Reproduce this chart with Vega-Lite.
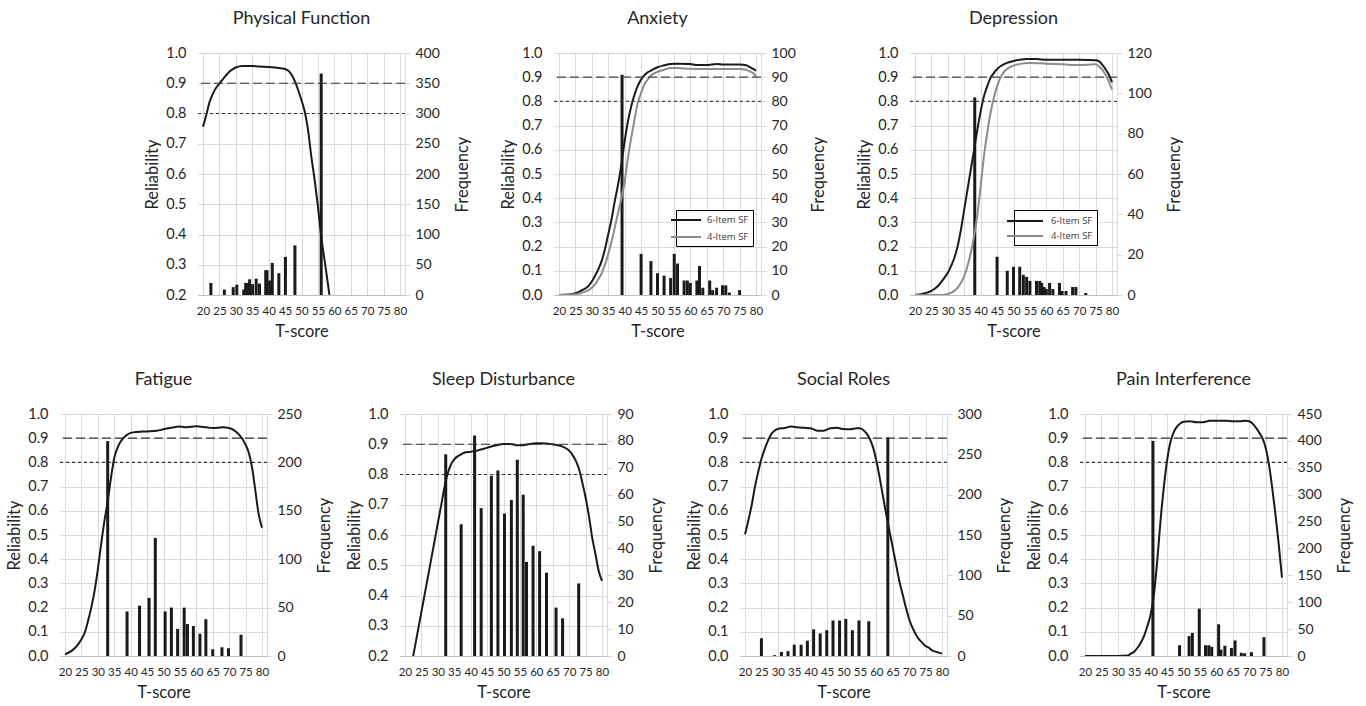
{
"$schema":"https://vega.github.io/schema/vega-lite/v6.json",
"padding":{"left":6,"top":10,"right":60,"bottom":0},
"datasets":{
"curves":[
{"p":"PF","t":20,"r":0.756},{"p":"PF","t":21,"r":0.795},{"p":"PF","t":22,"r":0.838},{"p":"PF","t":23,"r":0.865},{"p":"PF","t":24,"r":0.885},{"p":"PF","t":25,"r":0.899},{"p":"PF","t":26,"r":0.913},{"p":"PF","t":27,"r":0.926},{"p":"PF","t":28,"r":0.938},{"p":"PF","t":29,"r":0.946},{"p":"PF","t":30,"r":0.952},{"p":"PF","t":32,"r":0.957},{"p":"PF","t":35,"r":0.957},{"p":"PF","t":37,"r":0.955},{"p":"PF","t":40,"r":0.954},{"p":"PF","t":42,"r":0.952},{"p":"PF","t":44,"r":0.949},{"p":"PF","t":45,"r":0.947},{"p":"PF","t":46,"r":0.941},{"p":"PF","t":47,"r":0.928},{"p":"PF","t":48,"r":0.906},{"p":"PF","t":49,"r":0.877},{"p":"PF","t":50,"r":0.844},{"p":"PF","t":51,"r":0.806},{"p":"PF","t":52,"r":0.745},{"p":"PF","t":53,"r":0.657},{"p":"PF","t":54,"r":0.581},{"p":"PF","t":55,"r":0.493},{"p":"PF","t":56,"r":0.394},{"p":"PF","t":57,"r":0.317},{"p":"PF","t":58,"r":0.24},{"p":"PF","t":58.5,"r":0.2},
{"p":"AX","f":"6-Item SF","t":20,"r":0},{"p":"AX","f":"6-Item SF","t":23,"r":0.002},{"p":"AX","f":"6-Item SF","t":25,"r":0.007},{"p":"AX","f":"6-Item SF","t":27,"r":0.02},{"p":"AX","f":"6-Item SF","t":29,"r":0.038},{"p":"AX","f":"6-Item SF","t":30,"r":0.056},{"p":"AX","f":"6-Item SF","t":31,"r":0.08},{"p":"AX","f":"6-Item SF","t":32,"r":0.107},{"p":"AX","f":"6-Item SF","t":33,"r":0.141},{"p":"AX","f":"6-Item SF","t":34,"r":0.19},{"p":"AX","f":"6-Item SF","t":35,"r":0.251},{"p":"AX","f":"6-Item SF","t":36,"r":0.313},{"p":"AX","f":"6-Item SF","t":37,"r":0.389},{"p":"AX","f":"6-Item SF","t":38,"r":0.457},{"p":"AX","f":"6-Item SF","t":39,"r":0.54},{"p":"AX","f":"6-Item SF","t":40,"r":0.636},{"p":"AX","f":"6-Item SF","t":41,"r":0.718},{"p":"AX","f":"6-Item SF","t":42,"r":0.78},{"p":"AX","f":"6-Item SF","t":43,"r":0.828},{"p":"AX","f":"6-Item SF","t":44,"r":0.865},{"p":"AX","f":"6-Item SF","t":45,"r":0.89},{"p":"AX","f":"6-Item SF","t":46,"r":0.908},{"p":"AX","f":"6-Item SF","t":47,"r":0.92},{"p":"AX","f":"6-Item SF","t":48,"r":0.927},{"p":"AX","f":"6-Item SF","t":50,"r":0.941},{"p":"AX","f":"6-Item SF","t":52,"r":0.949},{"p":"AX","f":"6-Item SF","t":54,"r":0.955},{"p":"AX","f":"6-Item SF","t":56,"r":0.956},{"p":"AX","f":"6-Item SF","t":60,"r":0.955},{"p":"AX","f":"6-Item SF","t":62,"r":0.95},{"p":"AX","f":"6-Item SF","t":65,"r":0.95},{"p":"AX","f":"6-Item SF","t":68,"r":0.955},{"p":"AX","f":"6-Item SF","t":70,"r":0.952},{"p":"AX","f":"6-Item SF","t":75,"r":0.952},{"p":"AX","f":"6-Item SF","t":77,"r":0.949},{"p":"AX","f":"6-Item SF","t":78,"r":0.943},{"p":"AX","f":"6-Item SF","t":79,"r":0.935},{"p":"AX","f":"6-Item SF","t":80,"r":0.927},
{"p":"AX","f":"4-Item SF","t":20,"r":0},{"p":"AX","f":"4-Item SF","t":25,"r":0.003},{"p":"AX","f":"4-Item SF","t":27,"r":0.01},{"p":"AX","f":"4-Item SF","t":29,"r":0.02},{"p":"AX","f":"4-Item SF","t":30,"r":0.03},{"p":"AX","f":"4-Item SF","t":31,"r":0.045},{"p":"AX","f":"4-Item SF","t":32,"r":0.065},{"p":"AX","f":"4-Item SF","t":33,"r":0.09},{"p":"AX","f":"4-Item SF","t":34,"r":0.125},{"p":"AX","f":"4-Item SF","t":35,"r":0.17},{"p":"AX","f":"4-Item SF","t":36,"r":0.22},{"p":"AX","f":"4-Item SF","t":37,"r":0.28},{"p":"AX","f":"4-Item SF","t":38,"r":0.34},{"p":"AX","f":"4-Item SF","t":39,"r":0.4},{"p":"AX","f":"4-Item SF","t":40,"r":0.47},{"p":"AX","f":"4-Item SF","t":41,"r":0.567},{"p":"AX","f":"4-Item SF","t":42,"r":0.65},{"p":"AX","f":"4-Item SF","t":43,"r":0.725},{"p":"AX","f":"4-Item SF","t":44,"r":0.794},{"p":"AX","f":"4-Item SF","t":45,"r":0.835},{"p":"AX","f":"4-Item SF","t":46,"r":0.87},{"p":"AX","f":"4-Item SF","t":47,"r":0.89},{"p":"AX","f":"4-Item SF","t":48,"r":0.907},{"p":"AX","f":"4-Item SF","t":50,"r":0.922},{"p":"AX","f":"4-Item SF","t":52,"r":0.931},{"p":"AX","f":"4-Item SF","t":54,"r":0.938},{"p":"AX","f":"4-Item SF","t":56,"r":0.938},{"p":"AX","f":"4-Item SF","t":60,"r":0.935},{"p":"AX","f":"4-Item SF","t":65,"r":0.934},{"p":"AX","f":"4-Item SF","t":70,"r":0.934},{"p":"AX","f":"4-Item SF","t":75,"r":0.934},{"p":"AX","f":"4-Item SF","t":77,"r":0.931},{"p":"AX","f":"4-Item SF","t":78,"r":0.925},{"p":"AX","f":"4-Item SF","t":79,"r":0.918},{"p":"AX","f":"4-Item SF","t":80,"r":0.904},
{"p":"DP","f":"6-Item SF","t":20,"r":0},{"p":"DP","f":"6-Item SF","t":23,"r":0.007},{"p":"DP","f":"6-Item SF","t":25,"r":0.017},{"p":"DP","f":"6-Item SF","t":27,"r":0.037},{"p":"DP","f":"6-Item SF","t":29,"r":0.072},{"p":"DP","f":"6-Item SF","t":30,"r":0.092},{"p":"DP","f":"6-Item SF","t":31,"r":0.12},{"p":"DP","f":"6-Item SF","t":32,"r":0.154},{"p":"DP","f":"6-Item SF","t":33,"r":0.202},{"p":"DP","f":"6-Item SF","t":34,"r":0.271},{"p":"DP","f":"6-Item SF","t":35,"r":0.354},{"p":"DP","f":"6-Item SF","t":36,"r":0.436},{"p":"DP","f":"6-Item SF","t":37,"r":0.519},{"p":"DP","f":"6-Item SF","t":38,"r":0.601},{"p":"DP","f":"6-Item SF","t":39,"r":0.684},{"p":"DP","f":"6-Item SF","t":40,"r":0.759},{"p":"DP","f":"6-Item SF","t":41,"r":0.821},{"p":"DP","f":"6-Item SF","t":42,"r":0.862},{"p":"DP","f":"6-Item SF","t":43,"r":0.897},{"p":"DP","f":"6-Item SF","t":44,"r":0.917},{"p":"DP","f":"6-Item SF","t":45,"r":0.934},{"p":"DP","f":"6-Item SF","t":46,"r":0.945},{"p":"DP","f":"6-Item SF","t":48,"r":0.959},{"p":"DP","f":"6-Item SF","t":50,"r":0.967},{"p":"DP","f":"6-Item SF","t":52,"r":0.972},{"p":"DP","f":"6-Item SF","t":54,"r":0.975},{"p":"DP","f":"6-Item SF","t":57,"r":0.975},{"p":"DP","f":"6-Item SF","t":60,"r":0.972},{"p":"DP","f":"6-Item SF","t":65,"r":0.972},{"p":"DP","f":"6-Item SF","t":70,"r":0.972},{"p":"DP","f":"6-Item SF","t":75,"r":0.97},{"p":"DP","f":"6-Item SF","t":76,"r":0.966},{"p":"DP","f":"6-Item SF","t":77,"r":0.952},{"p":"DP","f":"6-Item SF","t":78,"r":0.934},{"p":"DP","f":"6-Item SF","t":79,"r":0.911},{"p":"DP","f":"6-Item SF","t":80,"r":0.879},
{"p":"DP","f":"4-Item SF","t":20,"r":0},{"p":"DP","f":"4-Item SF","t":28,"r":0},{"p":"DP","f":"4-Item SF","t":30,"r":0.004},{"p":"DP","f":"4-Item SF","t":32,"r":0.017},{"p":"DP","f":"4-Item SF","t":33,"r":0.03},{"p":"DP","f":"4-Item SF","t":34,"r":0.051},{"p":"DP","f":"4-Item SF","t":35,"r":0.078},{"p":"DP","f":"4-Item SF","t":36,"r":0.12},{"p":"DP","f":"4-Item SF","t":37,"r":0.175},{"p":"DP","f":"4-Item SF","t":38,"r":0.243},{"p":"DP","f":"4-Item SF","t":39,"r":0.333},{"p":"DP","f":"4-Item SF","t":40,"r":0.45},{"p":"DP","f":"4-Item SF","t":41,"r":0.574},{"p":"DP","f":"4-Item SF","t":42,"r":0.67},{"p":"DP","f":"4-Item SF","t":43,"r":0.752},{"p":"DP","f":"4-Item SF","t":44,"r":0.814},{"p":"DP","f":"4-Item SF","t":45,"r":0.862},{"p":"DP","f":"4-Item SF","t":46,"r":0.897},{"p":"DP","f":"4-Item SF","t":47,"r":0.92},{"p":"DP","f":"4-Item SF","t":48,"r":0.934},{"p":"DP","f":"4-Item SF","t":50,"r":0.948},{"p":"DP","f":"4-Item SF","t":52,"r":0.955},{"p":"DP","f":"4-Item SF","t":55,"r":0.959},{"p":"DP","f":"4-Item SF","t":60,"r":0.956},{"p":"DP","f":"4-Item SF","t":65,"r":0.953},{"p":"DP","f":"4-Item SF","t":70,"r":0.95},{"p":"DP","f":"4-Item SF","t":75,"r":0.953},{"p":"DP","f":"4-Item SF","t":76,"r":0.945},{"p":"DP","f":"4-Item SF","t":77,"r":0.931},{"p":"DP","f":"4-Item SF","t":78,"r":0.911},{"p":"DP","f":"4-Item SF","t":79,"r":0.883},{"p":"DP","f":"4-Item SF","t":80,"r":0.849},
{"p":"FA","t":20,"r":0.007},{"p":"FA","t":22,"r":0.021},{"p":"FA","t":24,"r":0.048},{"p":"FA","t":25,"r":0.069},{"p":"FA","t":26,"r":0.096},{"p":"FA","t":27,"r":0.144},{"p":"FA","t":28,"r":0.2},{"p":"FA","t":29,"r":0.268},{"p":"FA","t":30,"r":0.358},{"p":"FA","t":31,"r":0.461},{"p":"FA","t":32,"r":0.557},{"p":"FA","t":33,"r":0.639},{"p":"FA","t":34,"r":0.736},{"p":"FA","t":35,"r":0.818},{"p":"FA","t":36,"r":0.86},{"p":"FA","t":37,"r":0.887},{"p":"FA","t":38,"r":0.904},{"p":"FA","t":39,"r":0.915},{"p":"FA","t":40,"r":0.922},{"p":"FA","t":42,"r":0.926},{"p":"FA","t":45,"r":0.928},{"p":"FA","t":48,"r":0.931},{"p":"FA","t":50,"r":0.937},{"p":"FA","t":52,"r":0.942},{"p":"FA","t":55,"r":0.948},{"p":"FA","t":57,"r":0.945},{"p":"FA","t":60,"r":0.949},{"p":"FA","t":63,"r":0.945},{"p":"FA","t":65,"r":0.942},{"p":"FA","t":68,"r":0.945},{"p":"FA","t":70,"r":0.942},{"p":"FA","t":72,"r":0.928},{"p":"FA","t":73,"r":0.915},{"p":"FA","t":74,"r":0.898},{"p":"FA","t":75,"r":0.873},{"p":"FA","t":76,"r":0.839},{"p":"FA","t":77,"r":0.777},{"p":"FA","t":78,"r":0.681},{"p":"FA","t":79,"r":0.585},{"p":"FA","t":80,"r":0.53},
{"p":"SL","t":22.5,"r":0.2},{"p":"SL","t":25,"r":0.346},{"p":"SL","t":27,"r":0.463},{"p":"SL","t":29,"r":0.58},{"p":"SL","t":30,"r":0.639},{"p":"SL","t":31,"r":0.697},{"p":"SL","t":32,"r":0.756},{"p":"SL","t":33,"r":0.803},{"p":"SL","t":34,"r":0.833},{"p":"SL","t":35,"r":0.85},{"p":"SL","t":36,"r":0.86},{"p":"SL","t":37,"r":0.866},{"p":"SL","t":38,"r":0.872},{"p":"SL","t":40,"r":0.875},{"p":"SL","t":42,"r":0.879},{"p":"SL","t":44,"r":0.885},{"p":"SL","t":46,"r":0.892},{"p":"SL","t":48,"r":0.897},{"p":"SL","t":50,"r":0.901},{"p":"SL","t":52,"r":0.901},{"p":"SL","t":54,"r":0.897},{"p":"SL","t":56,"r":0.897},{"p":"SL","t":58,"r":0.901},{"p":"SL","t":60,"r":0.903},{"p":"SL","t":62,"r":0.903},{"p":"SL","t":64,"r":0.901},{"p":"SL","t":66,"r":0.898},{"p":"SL","t":68,"r":0.892},{"p":"SL","t":70,"r":0.879},{"p":"SL","t":71,"r":0.865},{"p":"SL","t":72,"r":0.846},{"p":"SL","t":73,"r":0.818},{"p":"SL","t":74,"r":0.774},{"p":"SL","t":75,"r":0.724},{"p":"SL","t":76,"r":0.664},{"p":"SL","t":77,"r":0.592},{"p":"SL","t":78,"r":0.537},{"p":"SL","t":79,"r":0.481},{"p":"SL","t":80,"r":0.448},
{"p":"SR","t":20,"r":0.503},{"p":"SR","t":21,"r":0.559},{"p":"SR","t":22,"r":0.621},{"p":"SR","t":23,"r":0.697},{"p":"SR","t":24,"r":0.759},{"p":"SR","t":25,"r":0.814},{"p":"SR","t":26,"r":0.855},{"p":"SR","t":27,"r":0.89},{"p":"SR","t":28,"r":0.917},{"p":"SR","t":29,"r":0.931},{"p":"SR","t":30,"r":0.938},{"p":"SR","t":32,"r":0.942},{"p":"SR","t":34,"r":0.948},{"p":"SR","t":36,"r":0.945},{"p":"SR","t":38,"r":0.943},{"p":"SR","t":40,"r":0.941},{"p":"SR","t":42,"r":0.931},{"p":"SR","t":44,"r":0.931},{"p":"SR","t":46,"r":0.941},{"p":"SR","t":48,"r":0.943},{"p":"SR","t":50,"r":0.938},{"p":"SR","t":52,"r":0.937},{"p":"SR","t":54,"r":0.941},{"p":"SR","t":55,"r":0.941},{"p":"SR","t":56,"r":0.934},{"p":"SR","t":57,"r":0.92},{"p":"SR","t":58,"r":0.897},{"p":"SR","t":59,"r":0.862},{"p":"SR","t":60,"r":0.807},{"p":"SR","t":61,"r":0.738},{"p":"SR","t":62,"r":0.662},{"p":"SR","t":63,"r":0.586},{"p":"SR","t":64,"r":0.517},{"p":"SR","t":65,"r":0.448},{"p":"SR","t":66,"r":0.379},{"p":"SR","t":67,"r":0.31},{"p":"SR","t":68,"r":0.255},{"p":"SR","t":69,"r":0.2},{"p":"SR","t":70,"r":0.152},{"p":"SR","t":71,"r":0.117},{"p":"SR","t":72,"r":0.09},{"p":"SR","t":73,"r":0.069},{"p":"SR","t":74,"r":0.055},{"p":"SR","t":75,"r":0.041},{"p":"SR","t":76,"r":0.034},{"p":"SR","t":77,"r":0.023},{"p":"SR","t":78,"r":0.018},{"p":"SR","t":79,"r":0.014},{"p":"SR","t":80,"r":0.01},
{"p":"PI","t":20,"r":0},{"p":"PI","t":25,"r":0},{"p":"PI","t":30,"r":0},{"p":"PI","t":33,"r":0.002},{"p":"PI","t":34,"r":0.01},{"p":"PI","t":35,"r":0.018},{"p":"PI","t":36,"r":0.034},{"p":"PI","t":37,"r":0.055},{"p":"PI","t":38,"r":0.083},{"p":"PI","t":39,"r":0.124},{"p":"PI","t":40,"r":0.172},{"p":"PI","t":41,"r":0.255},{"p":"PI","t":42,"r":0.393},{"p":"PI","t":43,"r":0.559},{"p":"PI","t":44,"r":0.697},{"p":"PI","t":45,"r":0.807},{"p":"PI","t":46,"r":0.883},{"p":"PI","t":47,"r":0.924},{"p":"PI","t":48,"r":0.948},{"p":"PI","t":49,"r":0.961},{"p":"PI","t":50,"r":0.968},{"p":"PI","t":52,"r":0.97},{"p":"PI","t":54,"r":0.966},{"p":"PI","t":56,"r":0.966},{"p":"PI","t":58,"r":0.972},{"p":"PI","t":60,"r":0.972},{"p":"PI","t":63,"r":0.972},{"p":"PI","t":65,"r":0.97},{"p":"PI","t":67,"r":0.97},{"p":"PI","t":69,"r":0.972},{"p":"PI","t":70,"r":0.97},{"p":"PI","t":71,"r":0.961},{"p":"PI","t":72,"r":0.945},{"p":"PI","t":73,"r":0.924},{"p":"PI","t":74,"r":0.901},{"p":"PI","t":75,"r":0.862},{"p":"PI","t":76,"r":0.793},{"p":"PI","t":77,"r":0.697},{"p":"PI","t":78,"r":0.586},{"p":"PI","t":79,"r":0.462},{"p":"PI","t":80,"r":0.324}
],
"bars":[
{"p":"PF","t":22.4,"n":20},{"p":"PF","t":26.5,"n":9},{"p":"PF","t":29.2,"n":13},{"p":"PF","t":30.3,"n":17},{"p":"PF","t":32.4,"n":9},{"p":"PF","t":33,"n":20},{"p":"PF","t":33.5,"n":20},{"p":"PF","t":34.2,"n":26},{"p":"PF","t":35.1,"n":18},{"p":"PF","t":36.2,"n":27},{"p":"PF","t":37.2,"n":19},{"p":"PF","t":39.1,"n":41},{"p":"PF","t":39.5,"n":41},{"p":"PF","t":40.3,"n":24},{"p":"PF","t":41.1,"n":53},{"p":"PF","t":43.1,"n":36},{"p":"PF","t":45.1,"n":63},{"p":"PF","t":48,"n":82},{"p":"PF","t":56,"n":366},
{"p":"AX","t":39.2,"n":91},{"p":"AX","t":45,"n":17},{"p":"AX","t":48,"n":14},{"p":"AX","t":50,"n":9},{"p":"AX","t":52,"n":8},{"p":"AX","t":54,"n":7},{"p":"AX","t":55.1,"n":17},{"p":"AX","t":56.1,"n":13},{"p":"AX","t":58.1,"n":6},{"p":"AX","t":59.1,"n":6},{"p":"AX","t":60,"n":5},{"p":"AX","t":62,"n":6},{"p":"AX","t":62.8,"n":12},{"p":"AX","t":63.8,"n":3},{"p":"AX","t":65.9,"n":6},{"p":"AX","t":66.8,"n":2},{"p":"AX","t":68,"n":3},{"p":"AX","t":69.8,"n":4},{"p":"AX","t":70.8,"n":4},{"p":"AX","t":71.9,"n":1},{"p":"AX","t":75,"n":2},
{"p":"DP","t":38.2,"n":98},{"p":"DP","t":45,"n":19},{"p":"DP","t":48.1,"n":12},{"p":"DP","t":50,"n":14},{"p":"DP","t":51.9,"n":14},{"p":"DP","t":53,"n":10},{"p":"DP","t":54,"n":9},{"p":"DP","t":55,"n":7},{"p":"DP","t":57,"n":7},{"p":"DP","t":58,"n":7},{"p":"DP","t":58.6,"n":6},{"p":"DP","t":59.3,"n":4},{"p":"DP","t":60,"n":3},{"p":"DP","t":61,"n":6},{"p":"DP","t":62,"n":3},{"p":"DP","t":64,"n":6},{"p":"DP","t":64.8,"n":2},{"p":"DP","t":66,"n":2},{"p":"DP","t":68,"n":4},{"p":"DP","t":69,"n":4},{"p":"DP","t":72,"n":1},
{"p":"FA","t":33,"n":222},{"p":"FA","t":38.9,"n":46},{"p":"FA","t":42.7,"n":52},{"p":"FA","t":45.6,"n":60},{"p":"FA","t":47.5,"n":122},{"p":"FA","t":50.5,"n":46},{"p":"FA","t":52.4,"n":50},{"p":"FA","t":54.3,"n":28},{"p":"FA","t":56.3,"n":50},{"p":"FA","t":57.3,"n":33},{"p":"FA","t":59.1,"n":31},{"p":"FA","t":61.1,"n":23},{"p":"FA","t":62.9,"n":38},{"p":"FA","t":65,"n":7},{"p":"FA","t":67.8,"n":9},{"p":"FA","t":69.8,"n":8},{"p":"FA","t":73.6,"n":22},
{"p":"SL","t":32.4,"n":75},{"p":"SL","t":37.1,"n":49},{"p":"SL","t":41.2,"n":82},{"p":"SL","t":43.2,"n":55},{"p":"SL","t":46.3,"n":67},{"p":"SL","t":48.3,"n":69},{"p":"SL","t":50.3,"n":53},{"p":"SL","t":52.4,"n":58},{"p":"SL","t":54.2,"n":73},{"p":"SL","t":56,"n":60},{"p":"SL","t":57,"n":35},{"p":"SL","t":59,"n":41},{"p":"SL","t":61,"n":39},{"p":"SL","t":63.1,"n":31},{"p":"SL","t":66,"n":18},{"p":"SL","t":68,"n":14},{"p":"SL","t":72.9,"n":27},
{"p":"SR","t":25,"n":22},{"p":"SR","t":29,"n":1},{"p":"SR","t":31.1,"n":5},{"p":"SR","t":33.1,"n":6},{"p":"SR","t":35,"n":14},{"p":"SR","t":37.1,"n":14},{"p":"SR","t":39,"n":19},{"p":"SR","t":40.9,"n":33},{"p":"SR","t":42.9,"n":28},{"p":"SR","t":44.9,"n":32},{"p":"SR","t":46.8,"n":44},{"p":"SR","t":48.8,"n":44},{"p":"SR","t":50.7,"n":46},{"p":"SR","t":52.7,"n":32},{"p":"SR","t":54.7,"n":44},{"p":"SR","t":57.7,"n":43},{"p":"SR","t":63.5,"n":271},
{"p":"PI","t":40.7,"n":400},{"p":"PI","t":48.8,"n":20},{"p":"PI","t":51.7,"n":37},{"p":"PI","t":52.7,"n":43},{"p":"PI","t":54.8,"n":88},{"p":"PI","t":56.7,"n":20},{"p":"PI","t":57.7,"n":20},{"p":"PI","t":58.6,"n":17},{"p":"PI","t":60.7,"n":59},{"p":"PI","t":61.4,"n":12},{"p":"PI","t":62.6,"n":19},{"p":"PI","t":64.6,"n":15},{"p":"PI","t":65.7,"n":29},{"p":"PI","t":67.6,"n":6},{"p":"PI","t":68.6,"n":5},{"p":"PI","t":70.7,"n":7},{"p":"PI","t":74.5,"n":35}
]
},
"vconcat":[
{"hconcat":[
{"width":1,"height":242,"data":{"values":[]},"mark":"point"},
{"hconcat":[
{"title":"Physical Function","width":207,"height":242,
"layer":[
{"data":{"name":"bars"},"transform":[{"filter":"datum.p==='PF'"}],"mark":{"type":"bar","width":3,"color":"#1a1a1a"},
"encoding":{"x":{"field":"t","type":"quantitative","scale":{"domain":[20,80]},"axis":{"values":[20,25,30,35,40,45,50,55,60,65,70,75,80],"title":"T-score"}},"y":{"field":"n","type":"quantitative","scale":{"domain":[0,400]},"axis":{"orient":"right","values":[0,50,100,150,200,250,300,350,400],"title":"Frequency","grid":false}}}},
{"layer":[
{"data":{"name":"curves"},"transform":[{"filter":"datum.p==='PF'"}],"mark":{"type":"line","color":"#1a1a1a","strokeWidth":2,"interpolate":"monotone","clip":true},
"encoding":{"x":{"field":"t","type":"quantitative","scale":{"domain":[20,80]},"axis":{"values":[20,25,30,35,40,45,50,55,60,65,70,75,80],"title":"T-score"}},"y":{"field":"r","type":"quantitative","scale":{"domain":[0.2,1]},"axis":{"orient":"left","grid":true,"values":[0.2,0.3,0.4,0.5,0.6,0.7,0.8,0.9,1.0],"format":".1f","title":"Reliability"}}}},
{"data":{"values":[{"r":0.9}]},"mark":{"type":"rule","strokeDash":[9,4],"color":"#333333","strokeWidth":1.2},"encoding":{"y":{"field":"r","type":"quantitative","scale":{"domain":[0.2,1]},"axis":{"orient":"left","grid":true,"values":[0.2,0.3,0.4,0.5,0.6,0.7,0.8,0.9,1.0],"format":".1f","title":"Reliability"}}}},
{"data":{"values":[{"r":0.8}]},"mark":{"type":"rule","strokeDash":[3,3],"color":"#333333","strokeWidth":1.2},"encoding":{"y":{"field":"r","type":"quantitative","scale":{"domain":[0.2,1]},"axis":{"orient":"left","grid":true,"values":[0.2,0.3,0.4,0.5,0.6,0.7,0.8,0.9,1.0],"format":".1f","title":"Reliability"}}}}
]}],
"resolve":{"scale":{"y":"independent"}}},
{"title":"Anxiety","width":207,"height":242,
"layer":[
{"data":{"name":"bars"},"transform":[{"filter":"datum.p==='AX'"}],"mark":{"type":"bar","width":3,"color":"#1a1a1a"},
"encoding":{"x":{"field":"t","type":"quantitative","scale":{"domain":[20,80]},"axis":{"values":[20,25,30,35,40,45,50,55,60,65,70,75,80],"title":"T-score"}},"y":{"field":"n","type":"quantitative","scale":{"domain":[0,100]},"axis":{"orient":"right","values":[0,10,20,30,40,50,60,70,80,90,100],"title":"Frequency","grid":false}}}},
{"layer":[
{"data":{"name":"curves"},"transform":[{"filter":"datum.p==='AX'"}],"mark":{"type":"line","strokeWidth":2,"interpolate":"monotone","clip":true},
"encoding":{"x":{"field":"t","type":"quantitative","scale":{"domain":[20,80]},"axis":{"values":[20,25,30,35,40,45,50,55,60,65,70,75,80],"title":"T-score"}},"y":{"field":"r","type":"quantitative","scale":{"domain":[0,1]},"axis":{"orient":"left","grid":true,"values":[0,0.1,0.2,0.3,0.4,0.5,0.6,0.7,0.8,0.9,1.0],"format":".1f","title":"Reliability"}},
"color":{"field":"f","type":"nominal","scale":{"domain":["6-Item SF","4-Item SF"],"range":["#1a1a1a","#8c8c8c"]},"legend":{"orient":"none","legendX":122,"legendY":157,"title":null,"symbolType":"M-3,0H3","symbolSize":100,"symbolStrokeWidth":2,"labelOffset":15,"labelFontSize":9.5,"labelFont":"Open Sans","labelColor":"#404040","strokeColor":"#000000","fillColor":"#ffffff","padding":4,"rowPadding":6}}}},
{"data":{"values":[{"r":0.9}]},"mark":{"type":"rule","strokeDash":[9,4],"color":"#444444","strokeWidth":1.2},"encoding":{"y":{"field":"r","type":"quantitative","scale":{"domain":[0,1]},"axis":{"orient":"left","grid":true,"values":[0,0.1,0.2,0.3,0.4,0.5,0.6,0.7,0.8,0.9,1.0],"format":".1f","title":"Reliability"}}}},
{"data":{"values":[{"r":0.8}]},"mark":{"type":"rule","strokeDash":[3,3],"color":"#444444","strokeWidth":1.2},"encoding":{"y":{"field":"r","type":"quantitative","scale":{"domain":[0,1]},"axis":{"orient":"left","grid":true,"values":[0,0.1,0.2,0.3,0.4,0.5,0.6,0.7,0.8,0.9,1.0],"format":".1f","title":"Reliability"}}}}
]}],
"resolve":{"scale":{"y":"independent"}}},
{"title":"Depression","width":207,"height":242,
"layer":[
{"data":{"name":"bars"},"transform":[{"filter":"datum.p==='DP'"}],"mark":{"type":"bar","width":3,"color":"#1a1a1a"},
"encoding":{"x":{"field":"t","type":"quantitative","scale":{"domain":[20,80]},"axis":{"values":[20,25,30,35,40,45,50,55,60,65,70,75,80],"title":"T-score"}},"y":{"field":"n","type":"quantitative","scale":{"domain":[0,120]},"axis":{"orient":"right","values":[0,20,40,60,80,100,120],"title":"Frequency","grid":false}}}},
{"layer":[
{"data":{"name":"curves"},"transform":[{"filter":"datum.p==='DP'"}],"mark":{"type":"line","strokeWidth":2,"interpolate":"monotone","clip":true},
"encoding":{"x":{"field":"t","type":"quantitative","scale":{"domain":[20,80]},"axis":{"values":[20,25,30,35,40,45,50,55,60,65,70,75,80],"title":"T-score"}},"y":{"field":"r","type":"quantitative","scale":{"domain":[0,1]},"axis":{"orient":"left","grid":true,"values":[0,0.1,0.2,0.3,0.4,0.5,0.6,0.7,0.8,0.9,1.0],"format":".1f","title":"Reliability"}},
"color":{"field":"f","type":"nominal","scale":{"domain":["6-Item SF","4-Item SF"],"range":["#1a1a1a","#8c8c8c"]},"legend":{"orient":"none","legendX":104,"legendY":157,"title":null,"symbolType":"M-3,0H3","symbolSize":144,"symbolStrokeWidth":2,"labelOffset":19,"labelFontSize":9.5,"labelFont":"Open Sans","labelColor":"#404040","strokeColor":"#000000","fillColor":"#ffffff","padding":4,"rowPadding":3}}}},
{"data":{"values":[{"r":0.9}]},"mark":{"type":"rule","strokeDash":[9,4],"color":"#444444","strokeWidth":1.2},"encoding":{"y":{"field":"r","type":"quantitative","scale":{"domain":[0,1]},"axis":{"orient":"left","grid":true,"values":[0,0.1,0.2,0.3,0.4,0.5,0.6,0.7,0.8,0.9,1.0],"format":".1f","title":"Reliability"}}}},
{"data":{"values":[{"r":0.8}]},"mark":{"type":"rule","strokeDash":[3,3],"color":"#444444","strokeWidth":1.2},"encoding":{"y":{"field":"r","type":"quantitative","scale":{"domain":[0,1]},"axis":{"orient":"left","grid":true,"values":[0,0.1,0.2,0.3,0.4,0.5,0.6,0.7,0.8,0.9,1.0],"format":".1f","title":"Reliability"}}}}
]}],
"resolve":{"scale":{"y":"independent"}}}
],"spacing":149,"bounds":"flush","resolve":{"scale":{"color":"independent"},"legend":{"color":"independent"}}}
],"spacing":137,"bounds":"flush"},
{"hconcat":[
{"title":"Fatigue","width":207,"height":242,
"layer":[
{"data":{"name":"bars"},"transform":[{"filter":"datum.p==='FA'"}],"mark":{"type":"bar","width":3,"color":"#1a1a1a"},
"encoding":{"x":{"field":"t","type":"quantitative","scale":{"domain":[20,80]},"axis":{"values":[20,25,30,35,40,45,50,55,60,65,70,75,80],"title":"T-score"}},"y":{"field":"n","type":"quantitative","scale":{"domain":[0,250]},"axis":{"orient":"right","values":[0,50,100,150,200,250],"title":"Frequency","grid":false}}}},
{"layer":[
{"data":{"name":"curves"},"transform":[{"filter":"datum.p==='FA'"}],"mark":{"type":"line","color":"#1a1a1a","strokeWidth":2,"interpolate":"monotone","clip":true},
"encoding":{"x":{"field":"t","type":"quantitative","scale":{"domain":[20,80]},"axis":{"values":[20,25,30,35,40,45,50,55,60,65,70,75,80],"title":"T-score"}},"y":{"field":"r","type":"quantitative","scale":{"domain":[0,1]},"axis":{"orient":"left","grid":true,"values":[0,0.1,0.2,0.3,0.4,0.5,0.6,0.7,0.8,0.9,1.0],"format":".1f","title":"Reliability"}}}},
{"data":{"values":[{"r":0.9}]},"mark":{"type":"rule","strokeDash":[9,4],"color":"#333333","strokeWidth":1.2},"encoding":{"y":{"field":"r","type":"quantitative","scale":{"domain":[0,1]},"axis":{"orient":"left","grid":true,"values":[0,0.1,0.2,0.3,0.4,0.5,0.6,0.7,0.8,0.9,1.0],"format":".1f","title":"Reliability"}}}},
{"data":{"values":[{"r":0.8}]},"mark":{"type":"rule","strokeDash":[3,3],"color":"#333333","strokeWidth":1.2},"encoding":{"y":{"field":"r","type":"quantitative","scale":{"domain":[0,1]},"axis":{"orient":"left","grid":true,"values":[0,0.1,0.2,0.3,0.4,0.5,0.6,0.7,0.8,0.9,1.0],"format":".1f","title":"Reliability"}}}}
]}],
"resolve":{"scale":{"y":"independent"}}},
{"title":"Sleep Disturbance","width":207,"height":242,
"layer":[
{"data":{"name":"bars"},"transform":[{"filter":"datum.p==='SL'"}],"mark":{"type":"bar","width":3,"color":"#1a1a1a"},
"encoding":{"x":{"field":"t","type":"quantitative","scale":{"domain":[20,80]},"axis":{"values":[20,25,30,35,40,45,50,55,60,65,70,75,80],"title":"T-score"}},"y":{"field":"n","type":"quantitative","scale":{"domain":[0,90]},"axis":{"orient":"right","values":[0,10,20,30,40,50,60,70,80,90],"title":"Frequency","grid":false}}}},
{"layer":[
{"data":{"name":"curves"},"transform":[{"filter":"datum.p==='SL'"}],"mark":{"type":"line","color":"#1a1a1a","strokeWidth":2,"interpolate":"monotone","clip":true},
"encoding":{"x":{"field":"t","type":"quantitative","scale":{"domain":[20,80]},"axis":{"values":[20,25,30,35,40,45,50,55,60,65,70,75,80],"title":"T-score"}},"y":{"field":"r","type":"quantitative","scale":{"domain":[0.2,1]},"axis":{"orient":"left","grid":true,"values":[0.2,0.3,0.4,0.5,0.6,0.7,0.8,0.9,1.0],"format":".1f","title":"Reliability"}}}},
{"data":{"values":[{"r":0.9}]},"mark":{"type":"rule","strokeDash":[9,4],"color":"#333333","strokeWidth":1.2},"encoding":{"y":{"field":"r","type":"quantitative","scale":{"domain":[0.2,1]},"axis":{"orient":"left","grid":true,"values":[0.2,0.3,0.4,0.5,0.6,0.7,0.8,0.9,1.0],"format":".1f","title":"Reliability"}}}},
{"data":{"values":[{"r":0.8}]},"mark":{"type":"rule","strokeDash":[3,3],"color":"#333333","strokeWidth":1.2},"encoding":{"y":{"field":"r","type":"quantitative","scale":{"domain":[0.2,1]},"axis":{"orient":"left","grid":true,"values":[0.2,0.3,0.4,0.5,0.6,0.7,0.8,0.9,1.0],"format":".1f","title":"Reliability"}}}}
]}],
"resolve":{"scale":{"y":"independent"}}},
{"title":"Social Roles","width":207,"height":242,
"layer":[
{"data":{"name":"bars"},"transform":[{"filter":"datum.p==='SR'"}],"mark":{"type":"bar","width":3,"color":"#1a1a1a"},
"encoding":{"x":{"field":"t","type":"quantitative","scale":{"domain":[20,80]},"axis":{"values":[20,25,30,35,40,45,50,55,60,65,70,75,80],"title":"T-score"}},"y":{"field":"n","type":"quantitative","scale":{"domain":[0,300]},"axis":{"orient":"right","values":[0,50,100,150,200,250,300],"title":"Frequency","grid":false}}}},
{"layer":[
{"data":{"name":"curves"},"transform":[{"filter":"datum.p==='SR'"}],"mark":{"type":"line","color":"#1a1a1a","strokeWidth":2,"interpolate":"monotone","clip":true},
"encoding":{"x":{"field":"t","type":"quantitative","scale":{"domain":[20,80]},"axis":{"values":[20,25,30,35,40,45,50,55,60,65,70,75,80],"title":"T-score"}},"y":{"field":"r","type":"quantitative","scale":{"domain":[0,1]},"axis":{"orient":"left","grid":true,"values":[0,0.1,0.2,0.3,0.4,0.5,0.6,0.7,0.8,0.9,1.0],"format":".1f","title":"Reliability"}}}},
{"data":{"values":[{"r":0.9}]},"mark":{"type":"rule","strokeDash":[9,4],"color":"#333333","strokeWidth":1.2},"encoding":{"y":{"field":"r","type":"quantitative","scale":{"domain":[0,1]},"axis":{"orient":"left","grid":true,"values":[0,0.1,0.2,0.3,0.4,0.5,0.6,0.7,0.8,0.9,1.0],"format":".1f","title":"Reliability"}}}},
{"data":{"values":[{"r":0.8}]},"mark":{"type":"rule","strokeDash":[3,3],"color":"#333333","strokeWidth":1.2},"encoding":{"y":{"field":"r","type":"quantitative","scale":{"domain":[0,1]},"axis":{"orient":"left","grid":true,"values":[0,0.1,0.2,0.3,0.4,0.5,0.6,0.7,0.8,0.9,1.0],"format":".1f","title":"Reliability"}}}}
]}],
"resolve":{"scale":{"y":"independent"}}},
{"title":"Pain Interference","width":207,"height":242,
"layer":[
{"data":{"name":"bars"},"transform":[{"filter":"datum.p==='PI'"}],"mark":{"type":"bar","width":3,"color":"#1a1a1a"},
"encoding":{"x":{"field":"t","type":"quantitative","scale":{"domain":[20,80]},"axis":{"values":[20,25,30,35,40,45,50,55,60,65,70,75,80],"title":"T-score"}},"y":{"field":"n","type":"quantitative","scale":{"domain":[0,450]},"axis":{"orient":"right","values":[0,50,100,150,200,250,300,350,400,450],"title":"Frequency","grid":false}}}},
{"layer":[
{"data":{"name":"curves"},"transform":[{"filter":"datum.p==='PI'"}],"mark":{"type":"line","color":"#1a1a1a","strokeWidth":2,"interpolate":"monotone","clip":true},
"encoding":{"x":{"field":"t","type":"quantitative","scale":{"domain":[20,80]},"axis":{"values":[20,25,30,35,40,45,50,55,60,65,70,75,80],"title":"T-score"}},"y":{"field":"r","type":"quantitative","scale":{"domain":[0,1]},"axis":{"orient":"left","grid":true,"values":[0,0.1,0.2,0.3,0.4,0.5,0.6,0.7,0.8,0.9,1.0],"format":".1f","title":"Reliability"}}}},
{"data":{"values":[{"r":0.9}]},"mark":{"type":"rule","strokeDash":[9,4],"color":"#333333","strokeWidth":1.2},"encoding":{"y":{"field":"r","type":"quantitative","scale":{"domain":[0,1]},"axis":{"orient":"left","grid":true,"values":[0,0.1,0.2,0.3,0.4,0.5,0.6,0.7,0.8,0.9,1.0],"format":".1f","title":"Reliability"}}}},
{"data":{"values":[{"r":0.8}]},"mark":{"type":"rule","strokeDash":[3,3],"color":"#333333","strokeWidth":1.2},"encoding":{"y":{"field":"r","type":"quantitative","scale":{"domain":[0,1]},"axis":{"orient":"left","grid":true,"values":[0,0.1,0.2,0.3,0.4,0.5,0.6,0.7,0.8,0.9,1.0],"format":".1f","title":"Reliability"}}}}
]}],
"resolve":{"scale":{"y":"independent"}}}
],"spacing":133,"bounds":"flush"}
],
"spacing":31,
"config":{
"font":"Lato",
"view":{"stroke":null},
"axis":{"gridColor":"#d9d9d9","labelColor":"#262626","titleColor":"#262626","titleFontWeight":"normal","labelFont":"Lato","titleFont":"Lato","titleFontSize":16.5},
"axisX":{"labelFlush":false,"labelOverlap":false,"ticks":false,"domainColor":"#bfbfbf","labelFontSize":11.5,"labelPadding":10,"titlePadding":7,"labelAngle":0},
"axisLeft":{"domain":false,"ticks":false,"labelFontSize":14.5,"labelPadding":12,"titlePadding":5},
"axisRight":{"grid":false,"domainColor":"#d9d9d9","tickColor":"#d9d9d9","tickSize":5,"labelFontSize":14,"labelPadding":5,"titlePadding":15,"titleAngle":270,"titleBaseline":"top"},
"title":{"fontSize":18,"fontWeight":"normal","font":"Lato","color":"#262626","offset":17}
}
}
